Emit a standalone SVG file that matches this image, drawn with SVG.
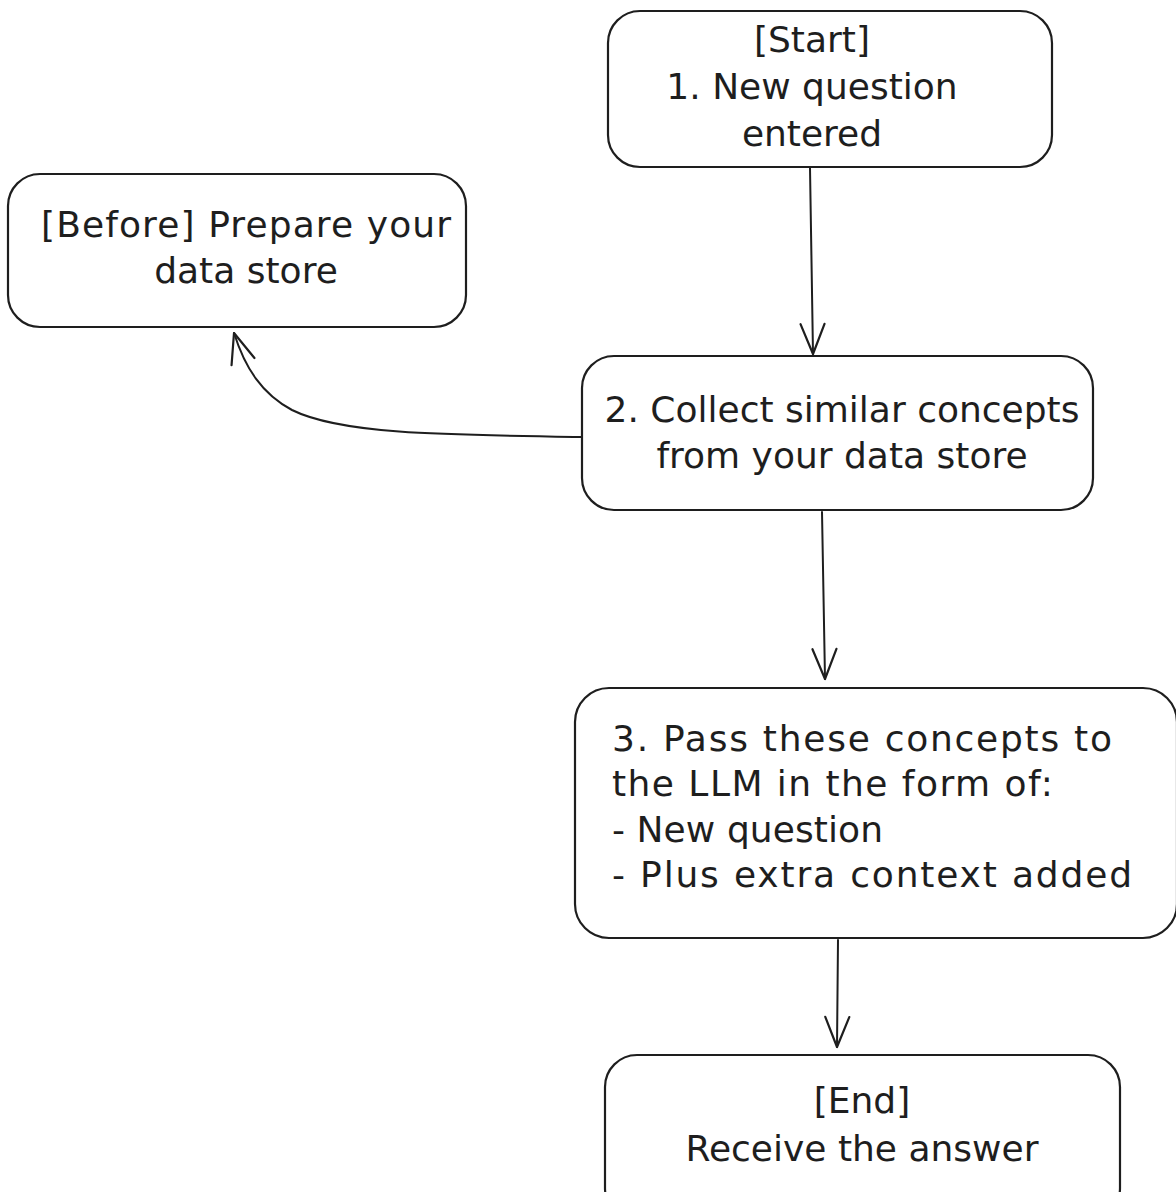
<svg xmlns="http://www.w3.org/2000/svg" width="1176" height="1192" viewBox="0 0 1176 1192">
  <style>
    .box { fill: #ffffff; stroke: #1e1e1e; stroke-width: 2.2; }
    .lbl { font-family: "DejaVu Sans", "Liberation Sans", sans-serif; font-size: 36px; fill: #1e1e1e; }
    .mid { text-anchor: middle; }
    .edge { fill: none; stroke: #1e1e1e; stroke-width: 2; stroke-linecap: round; marker-end: url(#arrow); }
  </style>
  <defs>
    <marker id="arrow" markerUnits="userSpaceOnUse" markerWidth="40" markerHeight="30" refX="31" refY="13" orient="auto" overflow="visible">
      <path d="M1,1 L31,13 L1,25" fill="none" stroke="#1e1e1e" stroke-width="2.2" stroke-linecap="round" stroke-linejoin="round"/>
    </marker>
  </defs>
  <rect width="1176" height="1192" fill="#ffffff"/>

  <g id="connectors">
    <path class="edge" d="M810,168 L813,354"/>
    <path class="edge" d="M581,437 C 440,435 340,434 292,410 C 262,394 245,368 234,333"/>
    <path class="edge" d="M822,512 L825,679"/>
    <path class="edge" d="M838,940 L837,1047"/>
  </g>

  <g id="node-start">
    <rect class="box" x="608" y="11" width="444" height="156" rx="32"/>
    <text class="lbl mid" x="812" y="52">[Start]</text>
    <text class="lbl mid" x="812" y="99">1. New question</text>
    <text class="lbl mid" x="812" y="146">entered</text>
  </g>

  <g id="node-before">
    <rect class="box" x="8" y="174" width="458" height="153" rx="32"/>
    <text class="lbl mid" x="246" y="237" textLength="410" lengthAdjust="spacing">[Before] Prepare your</text>
    <text class="lbl mid" x="246" y="283">data store</text>
  </g>

  <g id="node-collect">
    <rect class="box" x="582" y="356" width="511" height="154" rx="32"/>
    <text class="lbl mid" x="842" y="422">2. Collect similar concepts</text>
    <text class="lbl mid" x="842" y="468">from your data store</text>
  </g>

  <g id="node-pass">
    <rect class="box" x="575" y="688" width="602" height="250" rx="34"/>
    <text class="lbl" x="612" y="751" textLength="500" lengthAdjust="spacing">3. Pass these concepts to</text>
    <text class="lbl" x="612" y="796" textLength="441" lengthAdjust="spacing">the LLM in the form of:</text>
    <text class="lbl" x="612" y="842" textLength="271" lengthAdjust="spacing">- New question</text>
    <text class="lbl" x="612" y="887" textLength="520" lengthAdjust="spacing">- Plus extra context added</text>
  </g>

  <g id="node-end">
    <rect class="box" x="605" y="1055" width="515" height="165" rx="32"/>
    <text class="lbl mid" x="862" y="1113">[End]</text>
    <text class="lbl mid" x="862" y="1161">Receive the answer</text>
  </g>
</svg>
